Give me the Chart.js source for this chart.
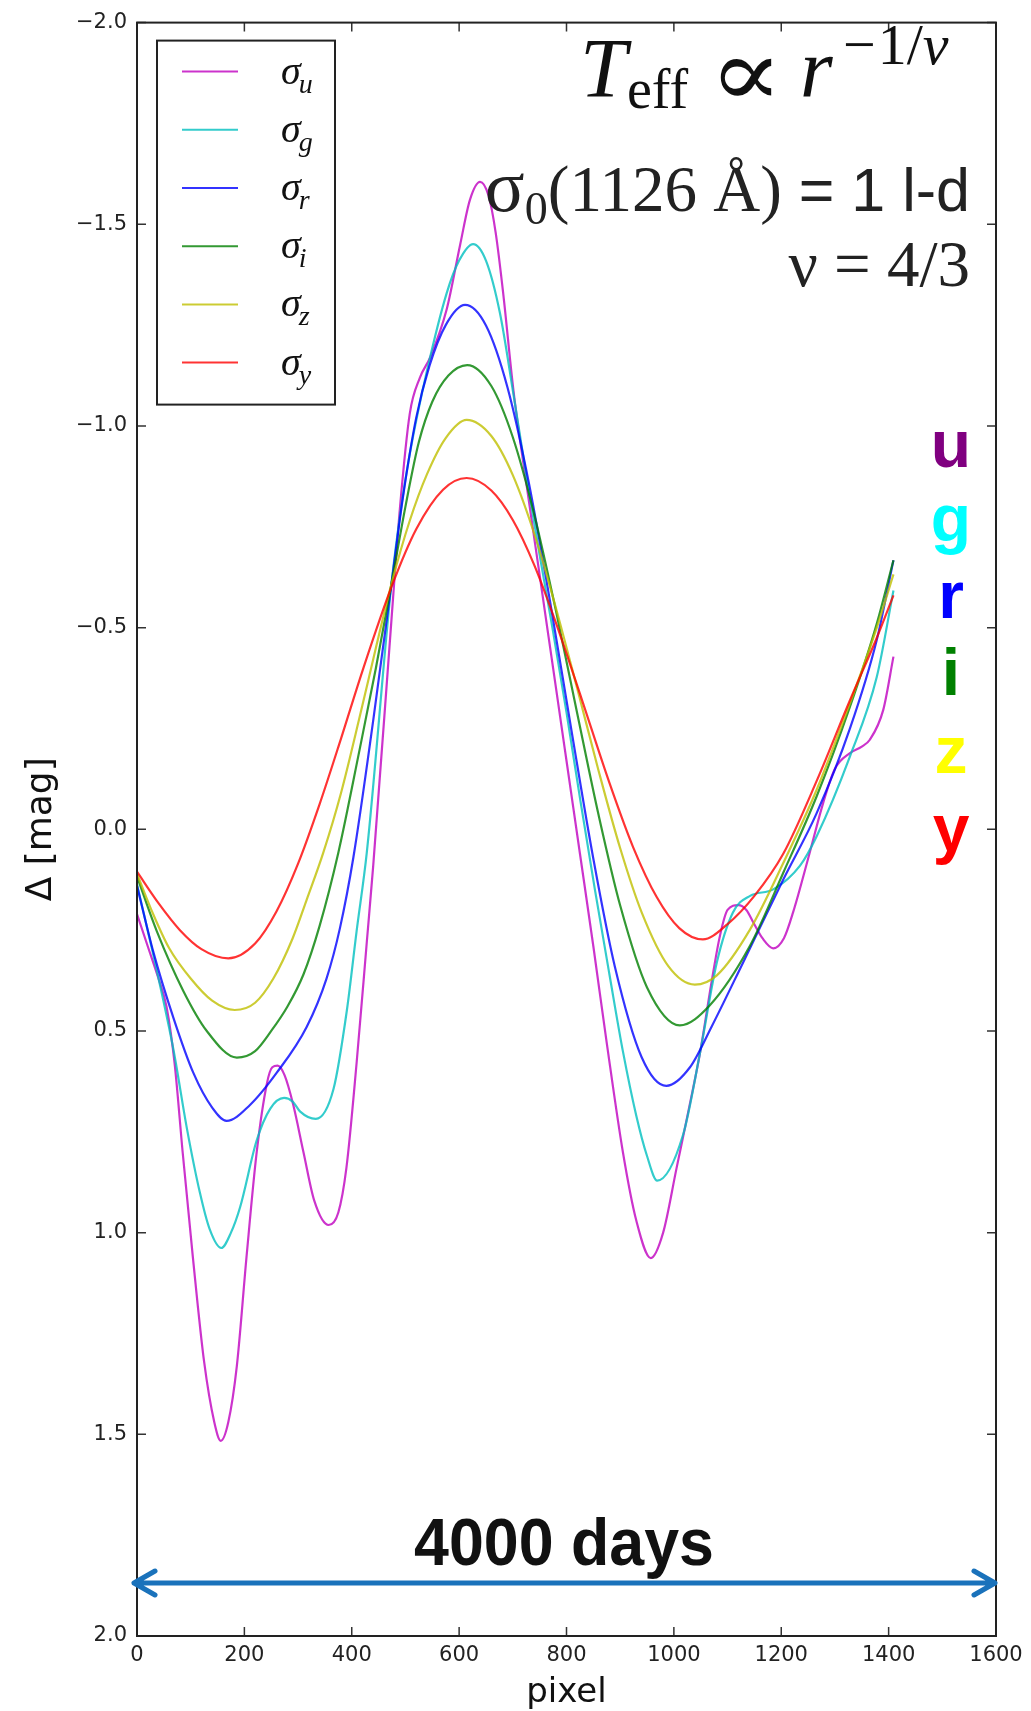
<!DOCTYPE html>
<html>
<head>
<meta charset="utf-8">
<script src="https://cdn.jsdelivr.net/npm/chart.js@4.4.0/dist/chart.umd.min.js"></script>
<style>
html, body { margin: 0; padding: 0; background: #fff; }
#wrap { width: 1031px; height: 1711px; position: relative; }
</style>
</head>
<body>
<div id="wrap"><canvas id="lightCurves"></canvas></div>
<script>
// light curve per band: pixel position (x) and delta mag (y)
var uX = [0, 20, 40, 55, 70, 85, 104, 125, 144, 156, 170, 186, 204, 223, 242, 252, 262, 275, 291, 310, 330, 357, 375, 390, 409, 428, 440, 474, 490, 508, 527, 546, 577, 602, 620, 639, 655, 668, 682, 701, 726, 750, 775, 800, 825, 850, 875, 905, 930, 957, 980, 1005, 1030, 1049, 1070, 1086, 1100, 1120, 1135, 1148, 1165, 1185, 1205, 1222, 1253, 1278, 1300, 1328, 1350, 1365, 1390, 1409];
var uY = [0.21, 0.29, 0.37, 0.44, 0.58, 0.80, 1.06, 1.32, 1.47, 1.516, 1.47, 1.33, 1.06, 0.80, 0.63, 0.59, 0.586, 0.61, 0.683, 0.80, 0.92, 0.981, 0.95, 0.84, 0.58, 0.28, 0.09, -0.52, -0.80, -1.03, -1.12, -1.17, -1.29, -1.45, -1.56, -1.605, -1.57, -1.48, -1.33, -1.09, -0.85, -0.63, -0.40, -0.17, 0.06, 0.29, 0.53, 0.80, 0.97, 1.063, 1.0, 0.84, 0.68, 0.552, 0.38, 0.263, 0.20, 0.188, 0.20, 0.231, 0.27, 0.295, 0.27, 0.206, 0.058, -0.065, -0.15, -0.189, -0.205, -0.222, -0.296, -0.428];

var gX = [0, 37, 68, 93, 117, 135, 157, 175, 192, 223, 248, 274, 290, 304, 333, 366, 391, 409, 428, 474, 493, 508, 540, 577, 600, 626, 650, 676, 701, 726, 750, 775, 800, 826, 853, 880, 905, 930, 950, 969, 1017, 1049, 1080, 1110, 1142, 1185, 1235, 1266, 1328, 1378, 1409];
var gY = [0.136, 0.351, 0.547, 0.742, 0.90, 0.99, 1.038, 1.0, 0.937, 0.771, 0.693, 0.666, 0.675, 0.70, 0.718, 0.644, 0.448, 0.253, 0.058, -0.609, -0.807, -0.93, -1.136, -1.33, -1.41, -1.451, -1.41, -1.28, -1.08, -0.87, -0.68, -0.49, -0.29, -0.07, 0.15, 0.36, 0.55, 0.71, 0.81, 0.871, 0.758, 0.552, 0.33, 0.206, 0.165, 0.149, 0.09, 0.017, -0.181, -0.378, -0.592];

var rX = [0, 30, 68, 105, 140, 167, 210, 260, 316, 353, 378, 403, 440, 474, 495, 520, 545, 575, 611, 650, 690, 730, 770, 810, 850, 890, 940, 986, 1030, 1070, 1129, 1204, 1266, 1328, 1378, 1409];
var rY = [0.14, 0.302, 0.468, 0.604, 0.69, 0.723, 0.684, 0.604, 0.49, 0.37, 0.245, 0.07, -0.27, -0.609, -0.82, -1.02, -1.15, -1.25, -1.30, -1.249, -1.096, -0.858, -0.56, -0.239, 0.073, 0.34, 0.565, 0.636, 0.59, 0.49, 0.33, 0.124, -0.04, -0.25, -0.47, -0.667];

var iX = [0, 37, 86, 130, 186, 220, 250, 280, 310, 340, 375, 415, 445, 474, 500, 525, 550, 580, 615, 660, 700, 740, 780, 820, 860, 900, 950, 1011, 1067, 1142, 1204, 1266, 1328, 1378, 1409];
var iY = [0.117, 0.253, 0.40, 0.50, 0.566, 0.55, 0.50, 0.44, 0.36, 0.24, 0.058, -0.20, -0.40, -0.609, -0.80, -0.96, -1.06, -1.125, -1.151, -1.099, -0.972, -0.78, -0.544, -0.287, -0.034, 0.189, 0.392, 0.486, 0.436, 0.288, 0.107, -0.082, -0.304, -0.51, -0.667];

var zX = [0, 30, 60, 100, 140, 182, 220, 254, 290, 316, 347, 380, 415, 445, 474, 508, 540, 575, 614, 660, 700, 744, 780, 820, 860, 900, 940, 990, 1039, 1080, 1142, 1204, 1266, 1328, 1378, 1409];
var zY = [0.11, 0.21, 0.295, 0.37, 0.425, 0.448, 0.43, 0.37, 0.27, 0.175, 0.058, -0.09, -0.28, -0.45, -0.609, -0.765, -0.88, -0.97, -1.015, -0.975, -0.878, -0.716, -0.55, -0.349, -0.144, 0.047, 0.206, 0.34, 0.385, 0.362, 0.248, 0.083, -0.098, -0.313, -0.50, -0.632];

var yX = [0, 40, 80, 120, 170, 220, 260, 300, 340, 380, 420, 474, 520, 570, 614, 660, 700, 740, 780, 828, 880, 924, 968, 1010, 1054, 1100, 1150, 1204, 1266, 1328, 1378, 1409];
var yY = [0.105, 0.183, 0.25, 0.297, 0.32, 0.283, 0.203, 0.085, -0.062, -0.225, -0.393, -0.601, -0.744, -0.842, -0.871, -0.84, -0.767, -0.655, -0.513, -0.324, -0.115, 0.044, 0.168, 0.245, 0.273, 0.235, 0.165, 0.06, -0.12, -0.32, -0.475, -0.58];

var bands = ['u', 'g', 'r', 'i', 'z', 'y'];
var lineColors = ['rgba(191,0,191,0.8)', 'rgba(0,191,191,0.8)', 'rgba(0,0,255,0.8)', 'rgba(0,128,0,0.8)', 'rgba(191,191,0,0.8)', 'rgba(255,0,0,0.8)'];
var bandTextColors = ['#800080', '#00ffff', '#0000ff', '#008000', '#ffff00', '#ff0000'];
var xTicks = [0, 200, 400, 600, 800, 1000, 1200, 1400, 1600];
var yTicks = [-2.0, -1.5, -1.0, -0.5, 0.0, 0.5, 1.0, 1.5, 2.0];

var seriesX = [uX, gX, rX, iX, zX, yX];
var seriesY = [uY, gY, rY, iY, zY, yY];

function toPoints(xs, ys) {
    return xs.map(function (x, k) { return { x: x, y: ys[k] }; });
}

var datasets = bands.map(function (b, k) {
    return {
        label: '\u03c3_' + b,
        data: toPoints(seriesX[k], seriesY[k]),
        borderColor: lineColors[k],
        borderWidth: 2.2,
        pointRadius: 0,
        cubicInterpolationMode: 'monotone',
        fill: false,
        order: bands.length - k
    };
});

// one piece of text, optionally squeezed/stretched to a given width; returns right edge
function piece(ctx, text, font, x, y, w) {
    ctx.font = font;
    var mw = ctx.measureText(text).width;
    var sx = w ? w / mw : 1;
    ctx.save();
    ctx.translate(x, y);
    ctx.scale(sx, 1);
    ctx.fillText(text, 0, 0);
    ctx.restore();
    return x + mw * sx;
}

// draw a row of text pieces ending at rightX
function drawRuns(ctx, runs, rightX, baseY) {
    var total = 0;
    runs.forEach(function (r) { ctx.font = r.font; r.w = ctx.measureText(r.text).width; total += r.w; });
    var x = rightX - total;
    runs.forEach(function (r) {
        ctx.font = r.font;
        ctx.fillText(r.text, x, baseY + (r.dy || 0));
        x += r.w;
    });
}

var figureDecor = {
    id: 'figureDecor',
    afterDraw: function (chart) {
        var ctx = chart.ctx, a = chart.chartArea;
        var xs = chart.scales.x, ys = chart.scales.y;
        ctx.save();

        // inward ticks on all four sides
        ctx.strokeStyle = '#333';
        ctx.lineWidth = 1.5;
        ctx.beginPath();
        xTicks.forEach(function (t) {
            var px = xs.getPixelForValue(t);
            ctx.moveTo(px, a.bottom); ctx.lineTo(px, a.bottom - 9);
            ctx.moveTo(px, a.top); ctx.lineTo(px, a.top + 9);
        });
        yTicks.forEach(function (t) {
            var py = ys.getPixelForValue(t);
            ctx.moveTo(a.left, py); ctx.lineTo(a.left + 9, py);
            ctx.moveTo(a.right, py); ctx.lineTo(a.right - 9, py);
        });
        ctx.stroke();

        // frame
        ctx.strokeStyle = '#222';
        ctx.lineWidth = 2;
        ctx.strokeRect(a.left, a.top, a.right - a.left, a.bottom - a.top);

        // legend box
        var lx = a.left + 20, ly = a.top + 18;
        ctx.fillStyle = '#fff';
        ctx.fillRect(lx, ly, 178, 364);
        ctx.strokeStyle = '#222';
        ctx.lineWidth = 2;
        ctx.strokeRect(lx, ly, 178, 364);
        ctx.textAlign = 'left';
        ctx.textBaseline = 'alphabetic';
        bands.forEach(function (b, k) {
            var rowY = ly + 31 + k * 58.2;
            ctx.strokeStyle = lineColors[k];
            ctx.lineWidth = 2;
            ctx.beginPath();
            ctx.moveTo(lx + 25, rowY); ctx.lineTo(lx + 81, rowY);
            ctx.stroke();
            ctx.fillStyle = '#111';
            ctx.font = 'italic 40px "Liberation Serif"';
            ctx.fillText('\u03c3', lx + 124, rowY + 12);
            var sw = ctx.measureText('\u03c3').width;
            ctx.font = 'italic 28px "Liberation Serif"';
            ctx.fillText(b, lx + 124 + sw - 2, rowY + 21);
        });

        // T_eff ∝ r^(-1/ν), upper right
        ctx.fillStyle = '#111';
        piece(ctx, 'T', 'italic 84px "Liberation Serif"', 580, 97);
        piece(ctx, 'eff', '56px "Liberation Serif"', 627, 108);
        piece(ctx, '\u221d', '96px "DejaVu Serif"', 709, 106, 74);
        piece(ctx, 'r', 'italic 84px "Liberation Serif"', 800, 97);
        var sx0 = piece(ctx, '\u2212', '58px "Liberation Serif"', 843, 64);
        sx0 = piece(ctx, '1/', '58px "Liberation Serif"', sx0 + 2, 64);
        piece(ctx, '\u03bd', 'italic 58px "Liberation Serif"', sx0, 64);

        ctx.fillStyle = '#222';
        drawRuns(ctx, [
            { text: '\u03c3', font: '74px "Liberation Serif"' },
            { text: '0', font: '46px "Liberation Serif"', dy: 13 },
            { text: '(1126 \u00c5)', font: '65px "Liberation Serif"' },
            { text: ' = 1 l-d', font: '61px "Liberation Sans"' }
        ], a.right - 26, a.top + 188);

        drawRuns(ctx, [
            { text: '\u03bd = 4/3', font: '65px "Liberation Serif"' }
        ], a.right - 26, a.top + 263);

        // band letters down the right side
        ctx.textAlign = 'center';
        ctx.font = 'bold 66px "Liberation Sans"';
        var letterBase = [467, 541, 618, 695, 773, 851];
        bands.forEach(function (b, k) {
            ctx.fillStyle = bandTextColors[k];
            ctx.fillText(b, a.right - 45, letterBase[k]);
        });

        // 4000 days span arrow
        var ay = a.bottom - 53;
        ctx.strokeStyle = '#1a72bb';
        ctx.lineWidth = 5;
        ctx.lineCap = 'round';
        ctx.lineJoin = 'round';
        ctx.beginPath();
        ctx.moveTo(a.left - 3, ay); ctx.lineTo(a.right - 1, ay);
        ctx.moveTo(a.left + 18, ay - 12); ctx.lineTo(a.left - 3, ay); ctx.lineTo(a.left + 18, ay + 12);
        ctx.moveTo(a.right - 22, ay - 12); ctx.lineTo(a.right - 1, ay); ctx.lineTo(a.right - 22, ay + 12);
        ctx.stroke();

        ctx.fillStyle = '#111';
        ctx.save();
        ctx.translate(564, a.bottom - 71);
        ctx.scale(0.95, 1);
        ctx.font = 'bold 66px "Liberation Sans"';
        ctx.textAlign = 'center';
        ctx.fillText('4000 days', 0, 0);
        ctx.restore();

        ctx.restore();
    }
};

new Chart(document.getElementById('lightCurves'), {
    type: 'line',
    data: { datasets: datasets },
    plugins: [figureDecor],
    options: {
        responsive: true,
        maintainAspectRatio: false,
        animation: false,
        layout: { padding: { top: 17, right: 35, left: 0, bottom: 0 } },
        plugins: {
            legend: { display: false },
            tooltip: { enabled: false }
        },
        scales: {
            x: {
                type: 'linear',
                min: 0,
                max: 1600,
                grid: { display: false, drawTicks: false, tickLength: 0 },
                border: { display: false },
                afterBuildTicks: function (s) { s.ticks = xTicks.map(function (v) { return { value: v }; }); },
                afterFit: function (s) { s.height = 75; },
                ticks: {
                    padding: 7,
                    color: '#222',
                    font: { family: 'DejaVu Sans', size: 21 },
                    callback: function (v) { return String(v); }
                },
                title: {
                    display: true,
                    text: 'pixel',
                    color: '#111',
                    font: { family: 'DejaVu Sans', size: 34, lineHeight: 1 },
                    padding: { top: 1, bottom: 1 }
                }
            },
            y: {
                type: 'linear',
                min: -2,
                max: 2,
                reverse: true,
                grid: { display: false, drawTicks: false, tickLength: 0 },
                border: { display: false },
                afterBuildTicks: function (s) { s.ticks = yTicks.map(function (v) { return { value: v }; }); },
                afterFit: function (s) { s.width = 137; },
                ticks: {
                    padding: 10,
                    color: '#222',
                    font: { family: 'DejaVu Sans', size: 21 },
                    callback: function (v) { return v.toFixed(1).replace('-', '\u2212'); }
                },
                title: {
                    display: true,
                    text: '\u0394 [mag]',
                    color: '#111',
                    font: { family: 'DejaVu Sans', size: 36, lineHeight: 1 },
                    padding: { top: 24, bottom: 24 }
                }
            }
        }
    }
});
</script>
</body>
</html>
